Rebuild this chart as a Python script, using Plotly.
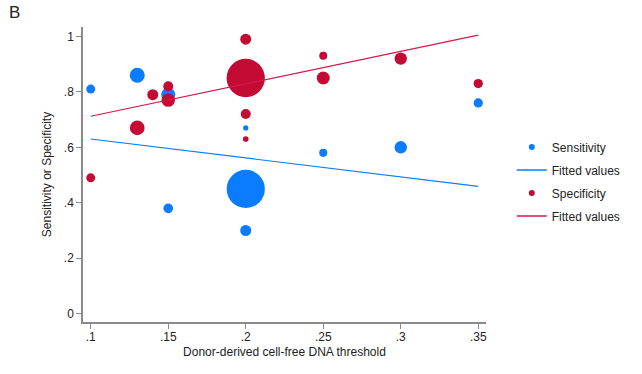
import math
import plotly.graph_objects as go

# ---- data ----
sens_x = [0.10, 0.13, 0.15, 0.15, 0.20, 0.20, 0.20, 0.25, 0.30, 0.35]
sens_y = [0.81, 0.86, 0.79, 0.38, 0.45, 0.30, 0.67, 0.58, 0.60, 0.76]
sens_w = [81, 225, 196, 94, 1460, 121, 28, 66, 155, 86]

spec_x = [0.10, 0.13, 0.14, 0.15, 0.15, 0.20, 0.20, 0.20, 0.20, 0.25, 0.25, 0.30, 0.35]
spec_y = [0.49, 0.67, 0.79, 0.82, 0.77, 0.99, 0.85, 0.72, 0.63, 0.93, 0.85, 0.92, 0.83]
spec_w = [81, 216, 121, 100, 177, 121, 1467, 100, 32, 64, 169, 152, 86]

fit_x = [0.10, 0.35]
sens_fit = [0.630, 0.459]
spec_fit = [0.712, 1.005]

x_ticks = [0.10, 0.15, 0.20, 0.25, 0.30, 0.35]
x_labels = [".1", ".15", ".2", ".25", ".3", ".35"]
y_ticks = [0, 0.2, 0.4, 0.6, 0.8, 1.0]
y_labels = ["0", ".2", ".4", ".6", ".8", "1"]

BLUE = "#0a7cff"
RED = "#c20a33"
REDLINE = "#d6174a"
FONT = "Liberation Sans, Arial, sans-serif"


def diam(ws):
    return [math.sqrt(w) for w in ws]


fig = go.Figure()

fig.add_trace(go.Scatter(x=sens_x, y=sens_y, mode="markers", showlegend=False,
                         marker=dict(color=BLUE, size=diam(sens_w), line=dict(width=0), opacity=1)))
fig.add_trace(go.Scatter(x=fit_x, y=sens_fit, mode="lines", showlegend=False,
                         line=dict(color=BLUE, width=1.2)))
fig.add_trace(go.Scatter(x=spec_x, y=spec_y, mode="markers", showlegend=False,
                         marker=dict(color=RED, size=diam(spec_w), line=dict(width=0), opacity=1)))
fig.add_trace(go.Scatter(x=fit_x, y=spec_fit, mode="lines", showlegend=False,
                         line=dict(color=REDLINE, width=1.2)))

# legend entries
fig.add_trace(go.Scatter(x=[None], y=[None], mode="markers", name="Sensitivity", legendgroup="a",
                         marker=dict(color=BLUE, size=6)))
fig.add_trace(go.Scatter(x=[None], y=[None], mode="lines", name="Fitted values", legendgroup="b",
                         line=dict(color=BLUE, width=1.5)))
fig.add_trace(go.Scatter(x=[None], y=[None], mode="markers", name="Specificity", legendgroup="c",
                         marker=dict(color=RED, size=6)))
fig.add_trace(go.Scatter(x=[None], y=[None], mode="lines", name="Fitted values", legendgroup="d",
                         line=dict(color=REDLINE, width=1.5)))

axis_common = dict(showgrid=False, zeroline=False, showline=True, linecolor="#8a8a8a", linewidth=1.5,
                   ticks="outside", ticklen=5, tickcolor="#8a8a8a", tickwidth=1,
                   tickfont=dict(family=FONT, size=12, color="#222"))

fig.update_layout(
    width=642, height=374,
    margin=dict(l=83, r=156, t=27, b=52),
    paper_bgcolor="white", plot_bgcolor="white",
    font=dict(family=FONT, size=12, color="#222"),
    xaxis=dict(range=[0.095, 0.355], tickvals=x_ticks, ticktext=x_labels, ticklabelstandoff=-2,
               title=dict(text="Donor-derived cell-free DNA threshold", font=dict(size=12), standoff=4),
               **axis_common),
    yaxis=dict(range=[-0.03, 1.034], tickvals=y_ticks, ticktext=y_labels,
               title=dict(text="Sensitivity or Specificity", font=dict(size=12), standoff=10),
               **axis_common),
    legend=dict(x=1.064, xanchor="left", y=0.642, yanchor="top", tracegroupgap=4,
                font=dict(family=FONT, size=12, color="#222"), bgcolor="rgba(0,0,0,0)"),
)
fig.add_annotation(text="B", xref="paper", yref="paper", x=-0.1695, y=1.0485, xanchor="center", yanchor="middle",
                   showarrow=False, font=dict(family=FONT, size=17, color="#222"))

fig.write_html("out.html", config={"displayModeBar": False},
               post_script="document.body.style.margin='0px';document.body.style.padding='0px';")
